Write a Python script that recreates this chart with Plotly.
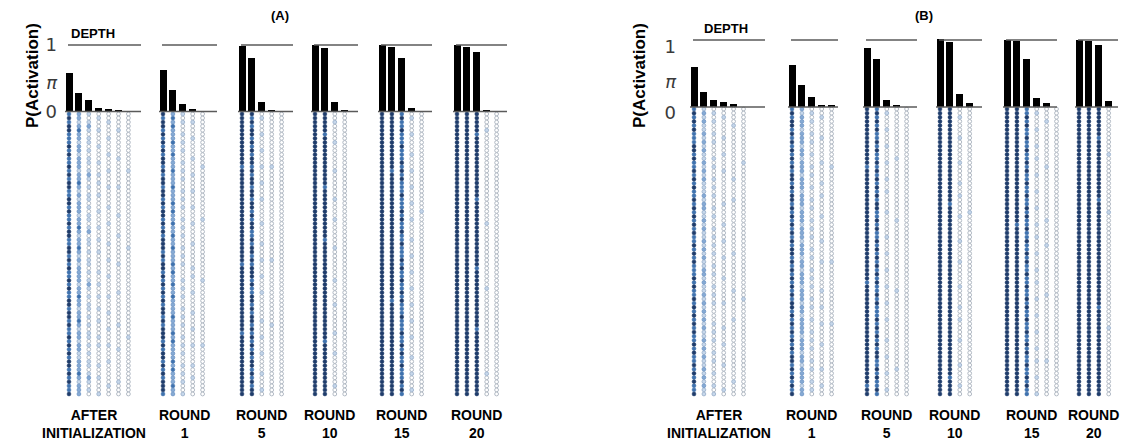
import plotly.graph_objects as go

W, H = 1124, 442

# ------------------------------------------------------------------ data
GROUP_LABELS = ["AFTER<br>INITIALIZATION", "ROUND<br>1", "ROUND<br>5",
                "ROUND<br>10", "ROUND<br>15", "ROUND<br>20"]
PANEL_TITLES = ["(A)", "(B)"]
Y_TICK_TEXT = ["0", "<i>π</i>", "1"]

# P(activation) per depth, panel A
A_BARS = [
    [0.58, 0.28, 0.17, 0.06, 0.04, 0.02, 0.0],
    [0.62, 0.32, 0.11, 0.04, 0.0],
    [0.98, 0.81, 0.15, 0.02, 0.0],
    [1.00, 0.95, 0.14, 0.02],
    [1.00, 0.97, 0.80, 0.05, 0.0],
    [1.00, 0.97, 0.89, 0.03, 0.0],
]
# panel B
B_BARS = [
    [0.60, 0.23, 0.11, 0.07, 0.04, 0.0],
    [0.63, 0.33, 0.15, 0.02, 0.02],
    [0.88, 0.71, 0.10, 0.03, 0.0],
    [1.02, 0.97, 0.20, 0.06],
    [1.00, 0.98, 0.72, 0.14, 0.06, 0.0],
    [1.00, 0.99, 0.93, 0.09],
]

# unit activation shade (0 = off ... 4 = strongly on), one string per depth column
A_DOTS = [
    ["3434433343 4334343443 3443433434 4334434343 3434334434 4343343434 3443434334",
     "2212322122 1222122321 2122212232 1223212122 2212232212 2321221221 1222321222",
     "1012101101 0110121010 1101011012 0110101101 0121010110 1010110101 0110121010",
     "0100100010 0010010100 1000100010 0100100001 0010010010 0100010100 0010010001",
     "0010001000 1000100010 0001000100 0010001000 1000010001 0001000100 0100000100",
     "0000100000 0100000010 0000010000 1000000100 0000100000 0010000010 0000001000",
     "0000000000 0000100000 0000000000 0001000000 0000000000 0000010000 0000000000"],
    ["4344343434 3443434434 4343443434 3444343443 4343434344 3434443434 4343434443",
     "2323222322 3222322232 2232322322 3223222323 2232232222 3222323222 2323222322",
     "1010010101 0010101001 0101001010 1001010100 0101010010 1010010101 0010101001",
     "0010001000 0100010001 0001000100 0010000010 1000100001 0001000100 0010010000",
     "0000000000 0001000000 0000001000 0000000000 0100000000 0000000100 0000000000"],
    ["4444444444 4443444444 4444444444 4444444344 4444444444 4444344444 4444444444",
     "4343443434 3443434434 4344343443 3434434344 4343344343 4434343434 3443434344",
     "0100010001 0001000100 0100000100 0010001000 1000100000 0100010001 0000100010",
     "0000000000 0001000000 0000000000 0000001000 0000000000 0010000000 0000000000",
     "0000000000 0000000000 0000000000 0000000000 0000000000 0000000000 0000000000"],
    ["4444444444 4444444444 4444444444 4444444444 4444444444 4444444444 4444444444",
     "4444434444 4444444434 4444444444 4344444444 4444444444 4444443444 4444444444",
     "0010000100 0000100000 0100001000 0001000000 0100000100 0000100001 0000000100",
     "0000000000 0000000000 0000000000 0000000000 0000000000 0000000000 0000000000"],
    ["4444444444 4444444444 4444444444 4444444444 4444444444 4444444444 4444444444",
     "4444444444 4444344444 4444444444 4444444444 4444443444 4444444444 4444444444",
     "3433433343 3343434333 4333434334 3343334343 3433434333 4333433434 3343334343",
     "0100010000 1000100010 0010001000 0100010001 0001000100 0100010000 1000100010",
     "0000000000 0000000000 0000100000 0000000000 0000000000 0000000000 0000000000"],
    ["4444444444 4444444444 4444444444 4444444444 4444444444 4444444444 4444444444",
     "4444444444 4444444444 4444444444 4444444444 4444444444 4444444444 4444444444",
     "4444434444 4444444444 4344444444 4444444434 4444444444 4443444444 4444444444",
     "0000100000 0000000000 0000000100 0000000000 0001000000 0000000000 0000100000",
     "0000000000 0000000000 0000000000 0000000000 0000000000 0000000000 0000000000"],
]
B_DOTS = [
    ["3434343334 4343343434 3343434343 4334343433 3434334343 4343433434 3343434334",
     "1212112121 2112121211 1212211212 1121212112 2121121212 1212112121 2112121211",
     "0101001010 0010100101 0100101001 0101010010 1001010100 0010101001 0100100101",
     "0010000100 0100010000 0001000010 0010001000 0100000100 0001000100 0010000010",
     "0000100000 0000000100 0010000000 0000010000 0000100000 0100000000 0000001000",
     "0000000000 0001000000 0000000000 0000000000 0000001000 0000000000 0000000000"],
    ["3434434343 4343434434 3443434343 4343443434 3434343443 4343434343 4434343434",
     "2122212221 2212221222 1222122212 2212221221 2221222122 1222212221 2212222122",
     "0101001010 0100101001 0010100101 0100101001 0101001010 0100101010 0101001010",
     "0010000100 0001000010 0100001000 0010000100 0000100010 0010000100 0001000100",
     "0000000000 0000100000 0000000000 0000000100 0000000000 0010000000 0000000000"],
    ["4444444444 4444344444 4444444444 4444444444 4434444444 4444444444 4444444344",
     "3434343343 4334343434 3434433434 3343434343 4343343433 3434343434 4334343343",
     "0100010001 0001000100 1000010000 0100010001 0001000100 0100001000 1000100010",
     "0000000000 0010000000 0000000100 0000000000 0000100000 0000000000 0001000000",
     "0000000000 0000000000 0000000000 0000000000 0000000000 0000000000 0000000000"],
    ["4444444444 4444444444 4444444444 4444444444 4444444444 4444444444 4444444444",
     "4444444444 4444444444 4443444444 4444444444 4444444444 4444444444 4444434444",
     "0010000100 0001000010 0100001000 0010000100 0001000010 0100001000 0010000100",
     "0000000000 0000000000 0000010000 0000000000 0000000000 0000000000 0000000000"],
    ["4444444444 4444444444 4444444444 4444444444 4444444444 4444444444 4444444444",
     "4444444444 4444444444 4444444434 4444444444 4444444444 4444444444 4444444444",
     "3343433433 4334343343 3433434334 3343343433 4334334343 3433433434 3343343433",
     "0100010001 0010001000 1000100010 0100010001 0010001000 1000100010 0100010001",
     "0001000000 0000100000 0000000100 0001000000 0000010000 0000000000 0100000000",
     "0000000000 0000000000 0000000000 0000000000 0000000000 0000000000 0000000000"],
    ["4444444444 4444444444 4444444444 4444444444 4444444444 4444444444 4444444444",
     "4444444444 4444444444 4444444444 4444444444 4444444444 4444444444 4444444444",
     "4444444344 4444444444 4434444444 4444444444 4444444434 4444444444 4444444444",
     "0000000000 0100000000 0000010000 0000000000 0000000000 0001000000 0000000000"],
]

# ------------------------------------------------------------------ layout constants (pixels)
COL_STEP = 9.9
BAR_W = 7
LABEL_Y = 424
PANELS = [
    dict(first=[69, 163, 242, 315, 382, 457], line_end=[141, 217, 293, 358, 432, 507],
         base_px=111.5, one_px=45, dot_top=114, dot_bot=394,
         tick_pos=[112, 83, 45], axis_x=57, ylab_x=32, depth=(93, 34), title=(280, 16),
         label_nudge=[-5, 2, 0, 0, 0, 0]),
    dict(first=[694, 792, 867, 940, 1007, 1079], line_end=[765, 838, 917, 982, 1057, 1118],
         base_px=107, one_px=40, dot_top=109, dot_bot=394,
         tick_pos=[113, 82, 47], axis_x=676, ylab_x=639, depth=(726, 29), title=(924, 16),
         label_nudge=[0, 0, 0, 0, 0, 0]),
]
SHADE_STYLE = {
    0: dict(color="#ffffff", line=dict(color="#a9b2bd", width=0.9)),
    1: dict(color="#c6d7eb", line=dict(color="#9db2cc", width=0.9)),
    2: dict(color="#86aad4", line=dict(color="#6e96c5", width=0.8)),
    3: dict(color="#3f72ae", line=dict(color="#3f72ae", width=0.6)),
    4: dict(color="#1f3c6b", line=dict(color="#1f3c6b", width=0.6)),
}

fig = go.Figure()
annotations = []
shapes = []
layout_axes = {}

for p, (bars, dots, cfg) in enumerate(zip([A_BARS, B_BARS], [A_DOTS, B_DOTS], PANELS)):
    bar_ax = "y" if p == 0 else "y2"
    dot_ax = "y3" if p == 0 else "y4"
    bar_key = "yaxis" if p == 0 else "yaxis2"
    dot_key = "yaxis3" if p == 0 else "yaxis4"

    # pixel -> value mapping for the bar axis
    k = cfg["base_px"] - cfg["one_px"]
    r_top = cfg["base_px"] / k
    r_bot = (cfg["base_px"] - H) / k
    tickvals = [(cfg["base_px"] - t) / k for t in cfg["tick_pos"]]
    ax = dict(range=[r_bot, r_top], domain=[0, 1], showgrid=False, zeroline=False,
              showline=False, ticks="", tickvals=tickvals, ticktext=Y_TICK_TEXT,
              tickfont=dict(family="DejaVu Sans", size=18, color="#3a3a3a"),
              anchor="free", position=cfg["axis_x"] / W, side="left", fixedrange=True)
    if p == 1:
        ax["overlaying"] = "y"
    layout_axes[bar_key] = ax

    n_rows = len(dots[0][0].replace(" ", ""))
    step = (cfg["dot_bot"] - cfg["dot_top"]) / (n_rows - 1)
    layout_axes[dot_key] = dict(range=[(H - cfg["dot_top"]) / step, -cfg["dot_top"] / step],
                                domain=[0, 1], visible=False, overlaying="y",
                                fixedrange=True)

    pts = {s: ([], []) for s in SHADE_STYLE}
    for g, (vals, cols) in enumerate(zip(bars, dots)):
        xs = [cfg["first"][g] + i * COL_STEP for i in range(len(vals))]
        fig.add_trace(go.Bar(x=xs, y=vals, width=BAR_W,
                             marker=dict(color="black", line=dict(width=0)),
                             yaxis=bar_ax, showlegend=False, hoverinfo="skip"))
        for i, col in enumerate(cols):
            for r, ch in enumerate(col.replace(" ", "")):
                pts[int(ch)][0].append(cfg["first"][g] + i * COL_STEP)
                pts[int(ch)][1].append(r)
        # top and base lines
        shapes.append(dict(type="line", xref="x", yref=bar_ax, x0=cfg["first"][g] - 1,
                           x1=cfg["line_end"][g], y0=1, y1=1,
                           line=dict(color="#5a5a5a", width=1.5)))
        shapes.append(dict(type="line", xref="x", yref=bar_ax, x0=cfg["first"][g] - 4,
                           x1=cfg["line_end"][g], y0=0, y1=0,
                           line=dict(color="#5a5a5a", width=1.5)))
        cx = (xs[0] + xs[-1]) / 2 + cfg["label_nudge"][g]
        annotations.append(dict(x=cx / W, y=1 - LABEL_Y / H, xref="paper", yref="paper",
                                text="<b>" + GROUP_LABELS[g] + "</b>", showarrow=False,
                                font=dict(family="Liberation Sans, Arial", size=14, color="black"),
                                xanchor="center", yanchor="middle", align="center"))
    for s, st in SHADE_STYLE.items():
        fig.add_trace(go.Scatter(x=pts[s][0], y=pts[s][1], mode="markers", yaxis=dot_ax,
                                 marker=dict(size=3.8, symbol="circle", **st),
                                 showlegend=False, hoverinfo="skip"))

    annotations.append(dict(x=cfg["ylab_x"] / W, y=1 - 76 / H, xref="paper", yref="paper",
                            text="<b>P(Activation)</b>", textangle=-90, showarrow=False,
                            font=dict(family="Liberation Sans, Arial", size=17, color="black"),
                            xanchor="center", yanchor="middle"))
    annotations.append(dict(x=cfg["depth"][0] / W, y=1 - cfg["depth"][1] / H, xref="paper",
                            yref="paper", text="<b>DEPTH</b>", showarrow=False,
                            font=dict(family="Liberation Sans, Arial", size=13, color="black"),
                            xanchor="center", yanchor="middle"))
    annotations.append(dict(x=cfg["title"][0] / W, y=1 - cfg["title"][1] / H, xref="paper",
                            yref="paper", text="<b>" + PANEL_TITLES[p] + "</b>", showarrow=False,
                            font=dict(family="Liberation Sans, Arial", size=13, color="black"),
                            xanchor="center", yanchor="middle"))

fig.update_layout(
    width=W, height=H, margin=dict(l=0, r=0, t=0, b=0),
    paper_bgcolor="white", plot_bgcolor="white",
    xaxis=dict(range=[0, W], domain=[0, 1], visible=False, fixedrange=True),
    shapes=shapes, annotations=annotations, bargap=0, barmode="overlay",
    **layout_axes,
)
fig.write_html("out.html")
